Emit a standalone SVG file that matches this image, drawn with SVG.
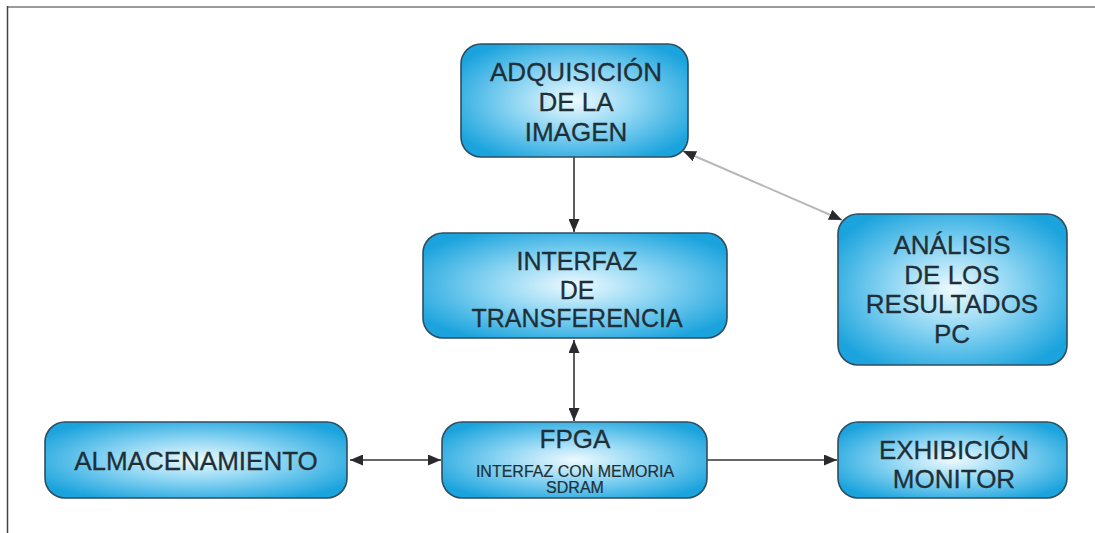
<svg xmlns="http://www.w3.org/2000/svg" width="1095" height="533" viewBox="0 0 1095 533">
<defs>
<radialGradient id="g" cx="0.5" cy="0.5" r="0.6">
<stop offset="0" stop-color="#eefaff"/>
<stop offset="0.45" stop-color="#8fd6f3"/>
<stop offset="1" stop-color="#1aa3dd"/>
</radialGradient>
<marker id="ah" viewBox="0 0 13 11" refX="13" refY="5.5" markerWidth="13" markerHeight="11" markerUnits="userSpaceOnUse" orient="auto-start-reverse">
<path d="M0,0 L13,5.5 L0,11 Z" fill="#2a2a2e"/>
</marker>
</defs>
<style>
.box{fill:url(#g);stroke:#2f4d60;stroke-width:1.6}
.t{font-family:"Liberation Sans",Arial,sans-serif;font-size:26px;fill:#1f2f38;text-anchor:middle;stroke:#1f2f38;stroke-width:0.3}
.m{font-size:25px}
.s{font-size:16px;stroke-width:0.2}
.c{stroke:#333;stroke-width:1.6;fill:none}
.d{stroke:#b8b8b8;stroke-width:2;fill:none}
</style>
<rect width="1095" height="533" fill="#fff"/>
<g id="frame">
<line x1="7" y1="7" x2="1095" y2="7" stroke="#9a9a9a" stroke-width="2"/>
<line x1="7.5" y1="6" x2="7.5" y2="533" stroke="#444" stroke-width="1.5"/>
</g>
<g id="connectors">
<line class="c" x1="574" y1="157" x2="574" y2="232" marker-end="url(#ah)"/>
<line class="c" x1="574" y1="340" x2="574" y2="421" marker-start="url(#ah)" marker-end="url(#ah)"/>
<line class="c" x1="350" y1="460" x2="441" y2="460" marker-start="url(#ah)" marker-end="url(#ah)"/>
<line class="c" x1="707" y1="460" x2="837" y2="460" marker-end="url(#ah)"/>
<line class="d" x1="683" y1="151" x2="842" y2="220" marker-start="url(#ah)" marker-end="url(#ah)"/>
</g>
<g id="adquisicion">
<rect class="box" x="461" y="44" width="227" height="113" rx="20"/>
<text class="t" x="576" y="81">ADQUISICIÓN</text>
<text class="t" x="576" y="111">DE LA</text>
<text class="t" x="576" y="141">IMAGEN</text>
</g>
<g id="interfaz">
<rect class="box" x="423" y="233" width="304" height="105" rx="20"/>
<text class="t m" x="577" y="270">INTERFAZ</text>
<text class="t m" x="577" y="298.5">DE</text>
<text class="t m" x="577" y="327">TRANSFERENCIA</text>
</g>
<g id="analisis">
<rect class="box" x="838" y="214" width="229" height="151" rx="20"/>
<text class="t" x="952" y="254">ANÁLISIS</text>
<text class="t" x="952" y="284">DE LOS</text>
<text class="t" x="952" y="313">RESULTADOS</text>
<text class="t" x="952" y="343">PC</text>
</g>
<g id="almacenamiento">
<rect class="box" x="45" y="422" width="302" height="76" rx="20"/>
<text class="t" x="196" y="470">ALMACENAMIENTO</text>
</g>
<g id="fpga">
<rect class="box" x="442" y="422" width="265" height="76" rx="20"/>
<text class="t" x="575" y="448">FPGA</text>
<text class="t s" x="575" y="477">INTERFAZ CON MEMORIA</text>
<text class="t s" x="575" y="493">SDRAM</text>
</g>
<g id="exhibicion">
<rect class="box" x="838" y="422" width="229" height="76" rx="20"/>
<text class="t" x="954" y="459">EXHIBICIÓN</text>
<text class="t" x="954" y="488">MONITOR</text>
</g>
</svg>
